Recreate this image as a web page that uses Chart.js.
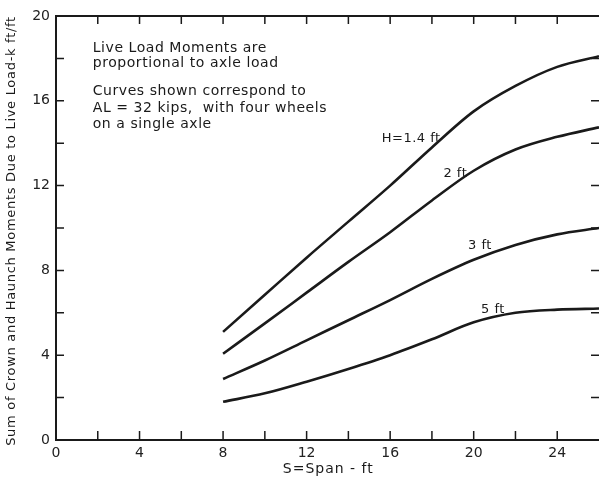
<!DOCTYPE html>
<html lang="en">
<head>
<meta charset="UTF-8">
<title>Live Load Moments vs Span</title>
<script src="https://cdn.jsdelivr.net/npm/chart.js"></script>
<style>
  body { margin: 0; background: #ffffff; }
  #wrap { width: 604px; height: 480px; }
</style>
</head>
<body>
<div id="wrap"><canvas id="moments" width="604" height="480"></canvas></div>
<script>
  // span S (ft) and summed crown + haunch moments (k-ft/ft) for each fill height H
  const spans = [8, 10, 12, 14, 16, 18, 20, 22, 24, 26];
  const momentH14 = [5.1, 6.85, 8.6, 10.3, 12.0, 13.8, 15.5, 16.7, 17.6, 18.1];
  const momentH2 = [4.07, 5.5, 6.95, 8.4, 9.8, 11.3, 12.7, 13.7, 14.3, 14.75];
  const momentH3 = [2.88, 3.75, 4.7, 5.65, 6.6, 7.6, 8.5, 9.2, 9.7, 10.0];
  const momentH5 = [1.8, 2.2, 2.75, 3.35, 4.0, 4.75, 5.55, 6.0, 6.15, 6.2];
  const curveNames = ['H=1.4 ft', '2 ft', '3 ft', '5 ft'];
  const noteLines = [
    'Live Load Moments are',
    'proportional to axle load',
    'Curves shown correspond to',
    'AL = 32 kips,  with four wheels',
    'on a single axle'
  ];
  const xTitle = 'S=Span - ft';
  const yTitle = 'Sum of Crown and Haunch Moments Due to Live Load-k ft/ft';

  const ink = '#1a1a1a';
  const font = 'DejaVu Sans';
  Chart.defaults.font.family = font;
  Chart.defaults.color = '#222';

  const series = [momentH14, momentH2, momentH3, momentH5];

  // frame, inward tick marks and all the lettering
  const drawing = {
    id: 'drawing',
    afterDraw(chart) {
      const { ctx, chartArea: a, scales: { x, y } } = chart;
      ctx.save();
      ctx.strokeStyle = ink;
      ctx.lineWidth = 2;
      ctx.beginPath();
      ctx.moveTo(a.right, a.top);
      ctx.lineTo(a.left, a.top);
      ctx.lineTo(a.left, a.bottom);
      ctx.lineTo(a.right, a.bottom);
      ctx.stroke();

      ctx.lineWidth = 1.5;
      ctx.beginPath();
      x.ticks.forEach(t => {
        if (t.value <= 0 || t.value >= 26) return;
        const px = x.getPixelForValue(t.value);
        ctx.moveTo(px, a.top); ctx.lineTo(px, a.top + 8);
        ctx.moveTo(px, a.bottom); ctx.lineTo(px, a.bottom - 9);
      });
      y.ticks.forEach(t => {
        if (t.value <= 0 || t.value >= 20) return;
        const py = y.getPixelForValue(t.value);
        ctx.moveTo(a.left, py); ctx.lineTo(a.left + 8, py);
        ctx.moveTo(a.right, py); ctx.lineTo(a.right - 8, py);
      });
      ctx.stroke();

      ctx.fillStyle = '#1a1a1a';
      ctx.textBaseline = 'alphabetic';
      ctx.textAlign = 'left';

      // note block
      ctx.font = '14px "' + font + '"';
      ctx.letterSpacing = '0.55px';
      const noteY = [18.3, 17.6, 16.27, 15.47, 14.72];
      noteLines.forEach((line, i) => {
        ctx.fillText(line, x.getPixelForValue(1.76), y.getPixelForValue(noteY[i]));
      });

      // curve labels
      ctx.font = '13px "' + font + '"';
      ctx.letterSpacing = '0.5px';
      const labelAt = [[15.6, 14.06], [18.55, 12.4], [19.73, 9.0], [20.35, 5.99]];
      curveNames.forEach((name, i) => {
        ctx.fillText(name, x.getPixelForValue(labelAt[i][0]), y.getPixelForValue(labelAt[i][1]));
      });

      // axis titles
      ctx.font = '14px "' + font + '"';
      ctx.letterSpacing = '1px';
      ctx.fillText(xTitle, x.getPixelForValue(10.86), 473);

      ctx.font = '13px "' + font + '"';
      ctx.letterSpacing = '0.7px';
      ctx.translate(12, (a.top + a.bottom) / 2 + 3);
      ctx.rotate(-Math.PI / 2);
      ctx.textAlign = 'center';
      ctx.textBaseline = 'middle';
      ctx.fillText(yTitle, 0, 0);
      ctx.restore();
    }
  };

  new Chart(document.getElementById('moments'), {
    type: 'line',
    data: {
      datasets: series.map((vals, i) => ({
        label: curveNames[i],
        data: spans.map((s, j) => ({ x: s, y: vals[j] })),
        borderColor: ink,
        borderWidth: 2.6,
        pointRadius: 0,
        fill: false,
        cubicInterpolationMode: 'monotone'
      }))
    },
    options: {
      responsive: false,
      devicePixelRatio: 1,
      animation: false,
      layout: { padding: { top: 16, right: 0, left: 0, bottom: 0 } },
      plugins: { legend: { display: false }, tooltip: { enabled: false } },
      scales: {
        x: {
          type: 'linear',
          min: 0,
          max: 26,
          grid: { display: false, drawTicks: false },
          border: { display: false },
          ticks: {
            stepSize: 2,
            autoSkip: false,
            maxRotation: 0,
            padding: 5,
            font: { size: 14 },
            callback: v => (v % 4 === 0 && v < 26 ? String(v) : '')
          },
          afterFit: s => { s.height = 40; }
        },
        y: {
          min: 0,
          max: 20,
          grid: { display: false, drawTicks: false },
          border: { display: false },
          ticks: {
            stepSize: 2,
            autoSkip: false,
            padding: 6,
            font: { size: 14 },
            callback: v => (v % 4 === 0 ? String(v) : '')
          },
          afterFit: s => { s.width = 56; }
        }
      }
    },
    plugins: [drawing]
  });
</script>
</body>
</html>
